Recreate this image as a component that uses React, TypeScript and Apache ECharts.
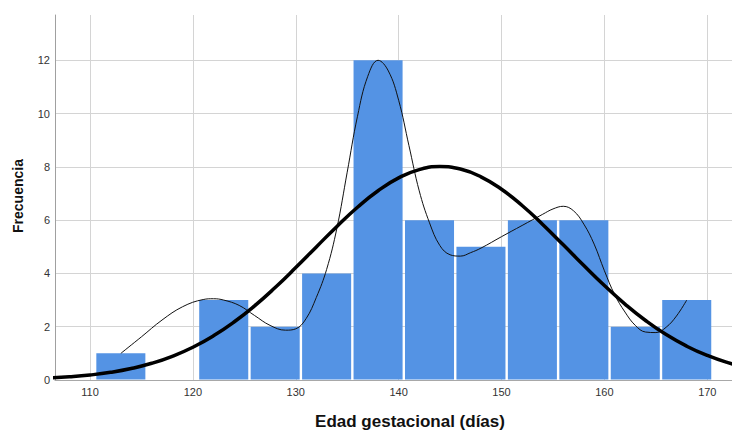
import React, { useEffect, useRef } from "react";
import * as echarts from "echarts";

// Histogram bins (lower edges), bin width and frequencies
const binStarts = [110.5, 115.5, 120.5, 125.5, 130.5, 135.5, 140.5, 145.5, 150.5, 155.5, 160.5, 165.5];
const binWidth = 5;
const counts = [1, 0, 3, 2, 4, 12, 6, 5, 6, 6, 2, 3];

// Axis ticks
const xTicks = [110, 120, 130, 140, 150, 160, 170];

// Fitted normal curve
const normalX = [106, 108, 110, 112, 114, 116, 118, 120, 122, 124, 126, 128, 130, 132, 134, 136, 138, 140, 142, 144, 146, 148, 150, 152, 154, 156, 158, 160, 162, 164, 166, 168, 170, 172, 174];
const normalY = [0.074, 0.12, 0.188, 0.288, 0.431, 0.627, 0.89, 1.23, 1.658, 2.177, 2.784, 3.472, 4.219, 4.995, 5.765, 6.483, 7.104, 7.587, 7.897, 8.01, 7.917, 7.626, 7.159, 6.549, 5.838, 5.073, 4.295, 3.544, 2.85, 2.233, 1.705, 1.269, 0.92, 0.65, 0.448];

// Thin interpolation line
const interpX = [113, 115, 117, 119, 121, 122, 123, 124.5, 126, 127.5, 129, 130, 131, 132, 133, 134, 135, 136, 137, 138, 139, 140, 141, 142, 143, 144, 145, 146, 147, 148, 150, 152, 154, 155, 156, 157, 158, 159, 160, 161, 162, 163, 164, 165, 166, 167, 168];
const interpY = [1.0, 1.62, 2.25, 2.75, 3.02, 3.05, 3.0, 2.8, 2.42, 2.05, 1.87, 1.92, 2.3, 3.1, 4.15, 5.7, 7.8, 9.9, 11.4, 12.0, 11.6, 10.5, 8.8, 7.1, 5.9, 5.05, 4.7, 4.65, 4.78, 4.95, 5.38, 5.8, 6.22, 6.42, 6.52, 6.35, 5.85, 5.1, 4.1, 3.2, 2.55, 2.05, 1.8, 1.78, 1.98, 2.4, 3.0];

const FONT = '"Liberation Sans", Arial, sans-serif';

export default function App() {
  const ref = useRef<HTMLDivElement>(null);
  useEffect(() => {
    if (!ref.current) return;
    const chart = echarts.init(ref.current, null, { renderer: "svg" });
    const histData = binStarts
      .map((s, i) => [s, s + binWidth, counts[i]])
      .filter((d) => d[2] > 0);
    chart.setOption({
      animation: false,
      backgroundColor: "#ffffff",
      grid: { left: 55, right: 0, top: 15, bottom: 50, containLabel: false, outerBoundsMode: "none" },
      xAxis: {
        type: "value",
        min: 106.6,
        max: 172.4,
        axisLine: { show: true, lineStyle: { color: "#a8a8a8", width: 1.2 } },
        axisTick: { show: false },
        splitLine: { show: false },
        axisLabel: {
          customValues: xTicks,
          margin: 6,
          fontSize: 11,
          color: "#333",
          fontFamily: FONT,
        },
      },
      yAxis: {
        type: "value",
        min: 0,
        max: 13.7,
        interval: 2,
        axisLine: { show: true, lineStyle: { color: "#a0a0a0", width: 1 } },
        axisTick: { show: false },
        axisLabel: { showMaxLabel: false, fontSize: 11, color: "#333", fontFamily: FONT, margin: 5 },
        splitLine: { show: true, showMaxLine: false, lineStyle: { color: "#d4d4d4", width: 1 } },
      },
      graphic: [
        {
          type: "text",
          x: 410,
          y: 421,
          style: {
            text: "Edad gestacional (días)",
            font: `bold 17px ${FONT}`,
            fill: "#111",
            textAlign: "center",
            textVerticalAlign: "middle",
          },
        },
        {
          type: "text",
          x: 18,
          y: 196,
          rotation: Math.PI / 2,
          style: {
            text: "Frecuencia",
            font: `bold 14px ${FONT}`,
            fill: "#111",
            textAlign: "center",
            textVerticalAlign: "middle",
          },
        },
      ],
      series: [
        {
          type: "line",
          data: [],
          silent: true,
          z: 1,
          markLine: {
            silent: true,
            symbol: "none",
            z: 1,
            label: { show: false },
            lineStyle: { color: "#d4d4d4", width: 1, type: "solid" },
            data: xTicks.map((v) => ({ xAxis: v })),
          },
        },
        {
          type: "custom",
          z: 2,
          data: histData,
          encode: { x: [0, 1], y: 2 },
          renderItem: (params: any, api: any) => {
            const x0 = api.value(0);
            const x1 = api.value(1);
            const y = api.value(2);
            const p0 = api.coord([x0, y]);
            const p1 = api.coord([x1, 0]);
            return {
              type: "rect",
              shape: {
                x: p0[0] + 1.2,
                y: p0[1],
                width: p1[0] - p0[0] - 2.4,
                height: p1[1] - p0[1] - 0.5,
              },
              style: { fill: "#5493E4" },
            };
          },
        },
        {
          type: "line",
          z: 3,
          data: interpX.map((x, i) => [x, interpY[i]]),
          smooth: 0.4,
          showSymbol: false,
          symbol: "none",
          lineStyle: { color: "#111", width: 1 },
        },
        {
          type: "line",
          z: 4,
          data: normalX.map((x, i) => [x, normalY[i]]),
          smooth: true,
          showSymbol: false,
          symbol: "none",
          lineStyle: { color: "#000", width: 3.5 },
        },
      ],
    });
    return () => chart.dispose();
  }, []);
  return (
    <div
      ref={ref}
      style={{ position: "fixed", left: 0, top: 0, width: 732, height: 430, background: "#fff" }}
    />
  );
}
